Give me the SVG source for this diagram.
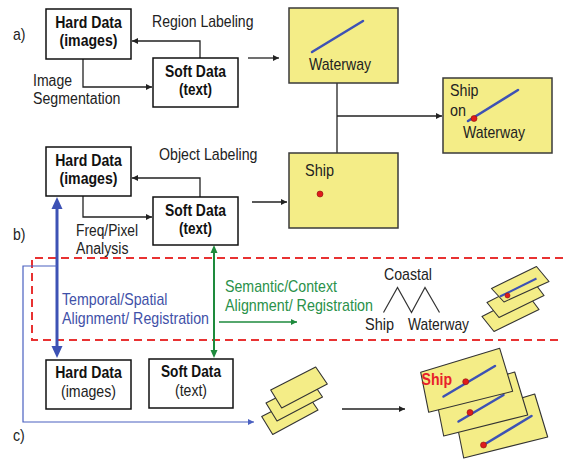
<svg xmlns="http://www.w3.org/2000/svg" width="563" height="461" viewBox="0 0 563 461">
<defs>
<style>
text{font-family:"Liberation Sans Narrow","Liberation Sans",Arial,sans-serif;font-size:17px;fill:#222;}
.b{font-weight:bold;fill:#111;}
.s16{font-size:16px;}
.box{fill:#fff;stroke:#111;stroke-width:1.5;}
.ybox{fill:#f4ed87;stroke:#3a3a3a;stroke-width:1.5;}
.card{fill:#f4ed87;stroke:#333;stroke-width:1.1;stroke-linejoin:round;}
.con{fill:none;stroke:#222;stroke-width:1.3;}
.bl{stroke:#3d52b5;stroke-width:2.5;stroke-linecap:round;}
.dot{fill:#e01b1b;stroke:#8a1010;stroke-width:0.6;}
.blt{fill:#3f51a8;}
.grt{fill:#2a914a;}
</style>
<marker id="ah" markerWidth="7" markerHeight="6" refX="6" refY="3" orient="auto" markerUnits="userSpaceOnUse">
<path d="M0,0 L6,3 L0,6 z" fill="#222"/>
</marker>
<marker id="ahb" markerWidth="7" markerHeight="6" refX="6" refY="3" orient="auto" markerUnits="userSpaceOnUse">
<path d="M0,0 L6,3 L0,6 z" fill="#4a60c0"/>
</marker>
<marker id="ahg" markerWidth="7" markerHeight="6" refX="6" refY="3" orient="auto" markerUnits="userSpaceOnUse">
<path d="M0,0 L6,3 L0,6 z" fill="#1e8a3c"/>
</marker>
</defs>
<rect width="563" height="461" fill="#fff"/>

<!-- section labels -->
<text x="13" y="40" textLength="12.5" lengthAdjust="spacingAndGlyphs">a)</text>
<text x="13" y="240" textLength="12.5" lengthAdjust="spacingAndGlyphs">b)</text>
<text x="13" y="441" textLength="11.8" lengthAdjust="spacingAndGlyphs">c)</text>

<!-- red dashed region -->
<path d="M563,258 H32 V340 H563" fill="none" stroke="#e83232" stroke-width="2" stroke-dasharray="8 5"/>

<g id="connectors">
<polyline class="con" points="83,59 83,87 152,87" marker-end="url(#ah)"/>
<polyline class="con" points="200,58 200,41 132,41" marker-end="url(#ah)"/>
<line class="con" x1="248" y1="58" x2="279" y2="58" marker-end="url(#ah)"/>
<polyline class="con" points="83,196 83,217 152,217" marker-end="url(#ah)"/>
<polyline class="con" points="200,197 200,178 132,178" marker-end="url(#ah)"/>
<line class="con" x1="252" y1="202" x2="287" y2="202" marker-end="url(#ah)"/>
<line class="con" x1="337" y1="83" x2="337" y2="153"/>
<line class="con" x1="337" y1="116" x2="442" y2="116" marker-end="url(#ah)"/>
<line class="con" x1="342" y1="409" x2="405" y2="409" marker-end="url(#ah)"/>
<!-- thick blue double arrow -->
<line x1="57" y1="207" x2="57" y2="348" stroke="#3d52b5" stroke-width="3"/>
<polygon points="57,197 51.5,209 62.5,209" fill="#3d52b5"/>
<polygon points="57,358 51.5,346 62.5,346" fill="#3d52b5"/>
<!-- thin blue arrow -->
<polyline points="57,266 23,266 23,422 254,422" fill="none" stroke="#4a60c0" stroke-width="1.2" marker-end="url(#ahb)"/>
<!-- green double arrow -->
<line x1="214" y1="252" x2="214" y2="351" stroke="#1e8a3c" stroke-width="2"/>
<polygon points="214,245 210.5,253 217.5,253" fill="#1e8a3c"/>
<polygon points="214,358 210.5,350 217.5,350" fill="#1e8a3c"/>
<line x1="219" y1="322" x2="297" y2="322" stroke="#1e8a3c" stroke-width="1.5" marker-end="url(#ahg)"/>
</g>

<!-- a) nodes -->
<g id="hard-a">
<rect class="box" x="46" y="9" width="85" height="50"/>
<text class="b" x="88.5" y="28" text-anchor="middle" textLength="66.6" lengthAdjust="spacingAndGlyphs">Hard Data</text>
<text class="b" x="88.5" y="46" text-anchor="middle" textLength="58" lengthAdjust="spacingAndGlyphs">(images)</text>
</g>
<g id="soft-a">
<rect class="box" x="153" y="58" width="85" height="49"/>
<text class="b" x="195.5" y="77" text-anchor="middle" textLength="61" lengthAdjust="spacingAndGlyphs">Soft Data</text>
<text class="b" x="195.5" y="95" text-anchor="middle" textLength="33" lengthAdjust="spacingAndGlyphs">(text)</text>
</g>
<g id="label-region">
<text x="152" y="27" textLength="101.5" lengthAdjust="spacingAndGlyphs">Region Labeling</text>
</g>
<g id="label-segmentation">
<text class="s16" x="33" y="85.5" textLength="39" lengthAdjust="spacingAndGlyphs">Image</text>
<text class="s16" x="33" y="103.5" textLength="87.5" lengthAdjust="spacingAndGlyphs">Segmentation</text>
</g>
<g id="waterway">
<rect class="ybox" x="289" y="8" width="109" height="75"/>
<line class="bl" x1="312" y1="52" x2="363" y2="21"/>
<text x="309" y="70" textLength="62" lengthAdjust="spacingAndGlyphs">Waterway</text>
</g>
<g id="ship-on-waterway">
<rect class="ybox" x="443" y="78" width="109" height="75"/>
<text x="450" y="96" textLength="28.5" lengthAdjust="spacingAndGlyphs">Ship</text>
<text x="450" y="116" textLength="16" lengthAdjust="spacingAndGlyphs">on</text>
<line class="bl" x1="468" y1="121" x2="518" y2="90"/>
<circle class="dot" cx="474" cy="118.5" r="3"/>
<text x="463" y="138" textLength="62" lengthAdjust="spacingAndGlyphs">Waterway</text>
</g>

<!-- b) nodes -->
<g id="hard-b">
<rect class="box" x="46" y="147" width="85" height="49"/>
<text class="b" x="88.5" y="166" text-anchor="middle" textLength="66.6" lengthAdjust="spacingAndGlyphs">Hard Data</text>
<text class="b" x="88.5" y="184" text-anchor="middle" textLength="58" lengthAdjust="spacingAndGlyphs">(images)</text>
</g>
<g id="soft-b">
<rect class="box" x="153" y="197" width="85" height="48"/>
<text class="b" x="195.5" y="216" text-anchor="middle" textLength="61" lengthAdjust="spacingAndGlyphs">Soft Data</text>
<text class="b" x="195.5" y="234" text-anchor="middle" textLength="33" lengthAdjust="spacingAndGlyphs">(text)</text>
</g>
<g id="label-object">
<text x="159" y="160" textLength="98.5" lengthAdjust="spacingAndGlyphs">Object Labeling</text>
</g>
<g id="label-freq">
<text class="s16" x="76" y="235.5" textLength="62" lengthAdjust="spacingAndGlyphs">Freq/Pixel</text>
<text class="s16" x="76" y="253.5" textLength="52.5" lengthAdjust="spacingAndGlyphs">Analysis</text>
</g>
<g id="ship">
<rect class="ybox" x="289" y="153" width="109" height="75"/>
<text x="305" y="176" textLength="29" lengthAdjust="spacingAndGlyphs">Ship</text>
<circle class="dot" cx="320" cy="194" r="3"/>
</g>

<!-- alignment labels -->
<g id="label-temporal">
<text class="blt" x="62" y="305" textLength="105.5" lengthAdjust="spacingAndGlyphs">Temporal/Spatial</text>
<text class="blt" x="62" y="324" textLength="147" lengthAdjust="spacingAndGlyphs">Alignment/ Registration</text>
</g>
<g id="label-semantic">
<text class="grt" x="225" y="292" textLength="112" lengthAdjust="spacingAndGlyphs">Semantic/Context</text>
<text class="grt" x="225" y="311" textLength="148" lengthAdjust="spacingAndGlyphs">Alignment/ Registration</text>
</g>
<g id="ontology">
<text x="384" y="280" textLength="48" lengthAdjust="spacingAndGlyphs">Coastal</text>
<polyline points="383.5,312.5 397.5,287.5 411.5,312.5 425,287.5 439.5,312.5" fill="none" stroke="#333" stroke-width="1.2"/>
<text x="365" y="330" textLength="29" lengthAdjust="spacingAndGlyphs">Ship</text>
<text x="408" y="330" textLength="61" lengthAdjust="spacingAndGlyphs">Waterway</text>
</g>
<g id="cards-semantic">
<polygon class="card" points="482,316.5 527,293.5 539,309.5 494,331.5"/>
<polygon class="card" points="487,302.5 532,279.5 544,295.5 499,317.5"/>
<polygon class="card" points="491.5,288.5 536.5,266.5 549,281.5 504,302"/>
<line x1="500" y1="296.5" x2="536.5" y2="278.5" stroke="#3d52b5" stroke-width="2"/>
<circle class="dot" cx="507.5" cy="295.5" r="2.5"/>
</g>

<!-- c) nodes -->
<g id="hard-c">
<rect class="box" x="46" y="360" width="85" height="49"/>
<text class="b" x="88.5" y="378" text-anchor="middle" textLength="66.6" lengthAdjust="spacingAndGlyphs">Hard Data</text>
<text x="88.5" y="397" text-anchor="middle" textLength="55" lengthAdjust="spacingAndGlyphs" fill="#111">(images)</text>
</g>
<g id="soft-c">
<rect class="box" x="149" y="359" width="84" height="49"/>
<text class="b" x="191" y="377" text-anchor="middle" textLength="60" lengthAdjust="spacingAndGlyphs">Soft Data</text>
<text x="191" y="396" text-anchor="middle" textLength="32" lengthAdjust="spacingAndGlyphs" fill="#111">(text)</text>
</g>
<g id="cards-small">
<polygon class="card" points="261.7,416.5 306.7,393.5 318,410 272.7,434.5"/>
<polygon class="card" points="266,403 311,380 322.5,397 277,421"/>
<polygon class="card" points="270.7,390 315.7,367 327.3,384 281.7,408"/>
</g>
<g id="cards-ship">
<polygon class="card" points="455.7,418 534.7,394 547.7,437 463.7,458"/>
<line class="bl" x1="483.5" y1="445" x2="531.5" y2="416"/>
<circle class="dot" cx="483.5" cy="445" r="3"/>
<polygon class="card" points="435.7,396 514.7,372 527.7,415 443.7,436"/>
<line class="bl" x1="458.5" y1="421.5" x2="503.5" y2="395"/>
<circle class="dot" cx="470" cy="412.5" r="3"/>
<polygon class="card" points="420.7,372.3 499.7,348.3 512.7,391.3 428.7,412.3"/>
<line class="bl" x1="443.5" y1="396.5" x2="495" y2="366"/>
<circle class="dot" cx="465.7" cy="381.7" r="3"/>
<text x="421.5" y="385" textLength="30.5" lengthAdjust="spacingAndGlyphs" style="font-weight:bold;fill:#e8202a">Ship</text>
</g>
</svg>
